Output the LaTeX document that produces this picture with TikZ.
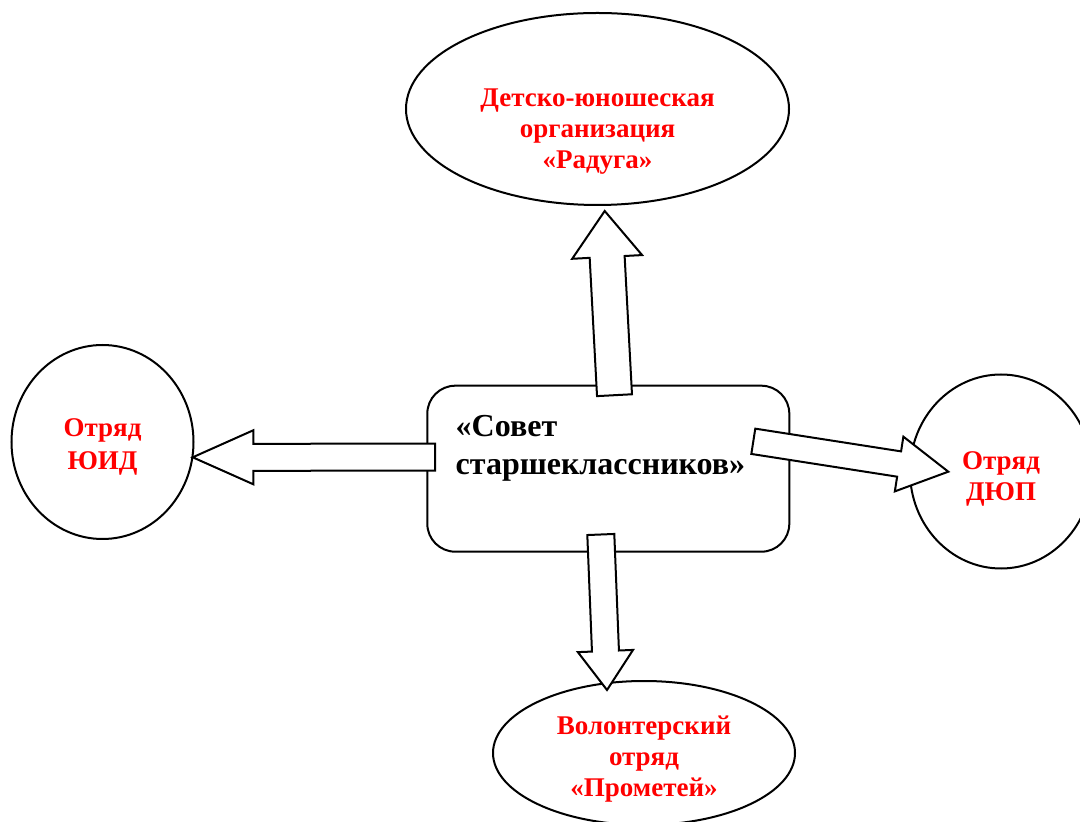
\documentclass[tikz,border=0pt]{standalone}
\usepackage{fontspec}
\setmainfont{Liberation Serif}
\usepackage{tikz}
\usetikzlibrary{positioning,calc,shapes.geometric}

% block arrow: start, tip, shaft half width, head half width, head length
\newcommand{\blockarrow}[5]{%
  \coordinate (hb) at ($(#2)!#5!(#1)$);
  \draw[blockarr] ($(#1)!#3!90:(#2)$) -- ($(hb)!#3!90:(#2)$) -- ($(hb)!#4!90:(#2)$) -- (#2)
    -- ($(hb)!#4!-90:(#2)$) -- ($(hb)!#3!-90:(#2)$) -- ($(#1)!#3!-90:(#2)$) -- cycle;}

\begin{document}
\begin{tikzpicture}[x=0.5pt,y=-0.5pt,line width=1pt,
      org/.style={ellipse,draw,inner sep=0pt},
      orgtext/.style={text=red,align=center,inner sep=0pt,
        font=\fontsize{13.5}{15.5}\selectfont\bfseries},
      councilbox/.style={rectangle,draw,rounded corners=14pt,inner sep=0pt,
        minimum width=181pt,minimum height=83pt},
      blockarr/.style={draw,fill=white,line join=miter}]

      \useasboundingbox (0,0) rectangle (1080,822);

      \node[org,minimum width=191.5pt,minimum height=96pt,
        label={[orgtext,yshift=-11.5pt]center:{Детско-юношеская\\организация\\«Радуга»}}]
        (raduga) at (597.5,109) {};
      \node[org,minimum width=91pt,minimum height=97pt,
        label={[orgtext,yshift=-2.5pt,font=\fontsize{13.5}{16.5}\selectfont\bfseries]center:{Отряд\\ЮИД}}]
        (yuid) at (102.5,442) {};
      \node[org,minimum width=91pt,minimum height=97pt,
        label={[orgtext,yshift=-3.5pt]center:{Отряд\\ДЮП}}]
        (dyup) at (1001,471.5) {};
      \node[org,minimum width=151pt,minimum height=72pt,
        label={[orgtext,yshift=-3pt]center:{Волонтерский\\отряд\\«Прометей»}}]
        (volont) at (644,753) {};

      \node[councilbox] (sovet) at (608.3,468.7) {};
      \node[below right=14.6pt and 14.2pt of sovet.north west,inner sep=0pt,align=left,
        font=\fontsize{16}{19}\selectfont\bfseries] (sovet-text) {«Совет\\старшеклассников»};

      % arrow ends
      \coordinate (up-s) at (614.5,395.2);
      \coordinate (up-t) at (604.7,211);
      \coordinate (left-s) at (435,457.2);
      \coordinate (left-t) at (192.7,457.3);
      \coordinate (right-s) at (753.3,441.3);
      \coordinate (right-t) at (948.3,471.7);
      \coordinate (down-s) at (600.8,534.5);
      \coordinate (down-t) at (607,690);

      \blockarrow{up-s}{up-t}{8.75pt}{17.5pt}{23pt}
      \blockarrow{left-s}{left-t}{6.75pt}{13.5pt}{30.3pt}
      \blockarrow{right-s}{right-t}{6.4pt}{13.85pt}{24.9pt}
      \blockarrow{down-s}{down-t}{6.75pt}{13.8pt}{19.5pt}
    \end{tikzpicture}
\end{document}
